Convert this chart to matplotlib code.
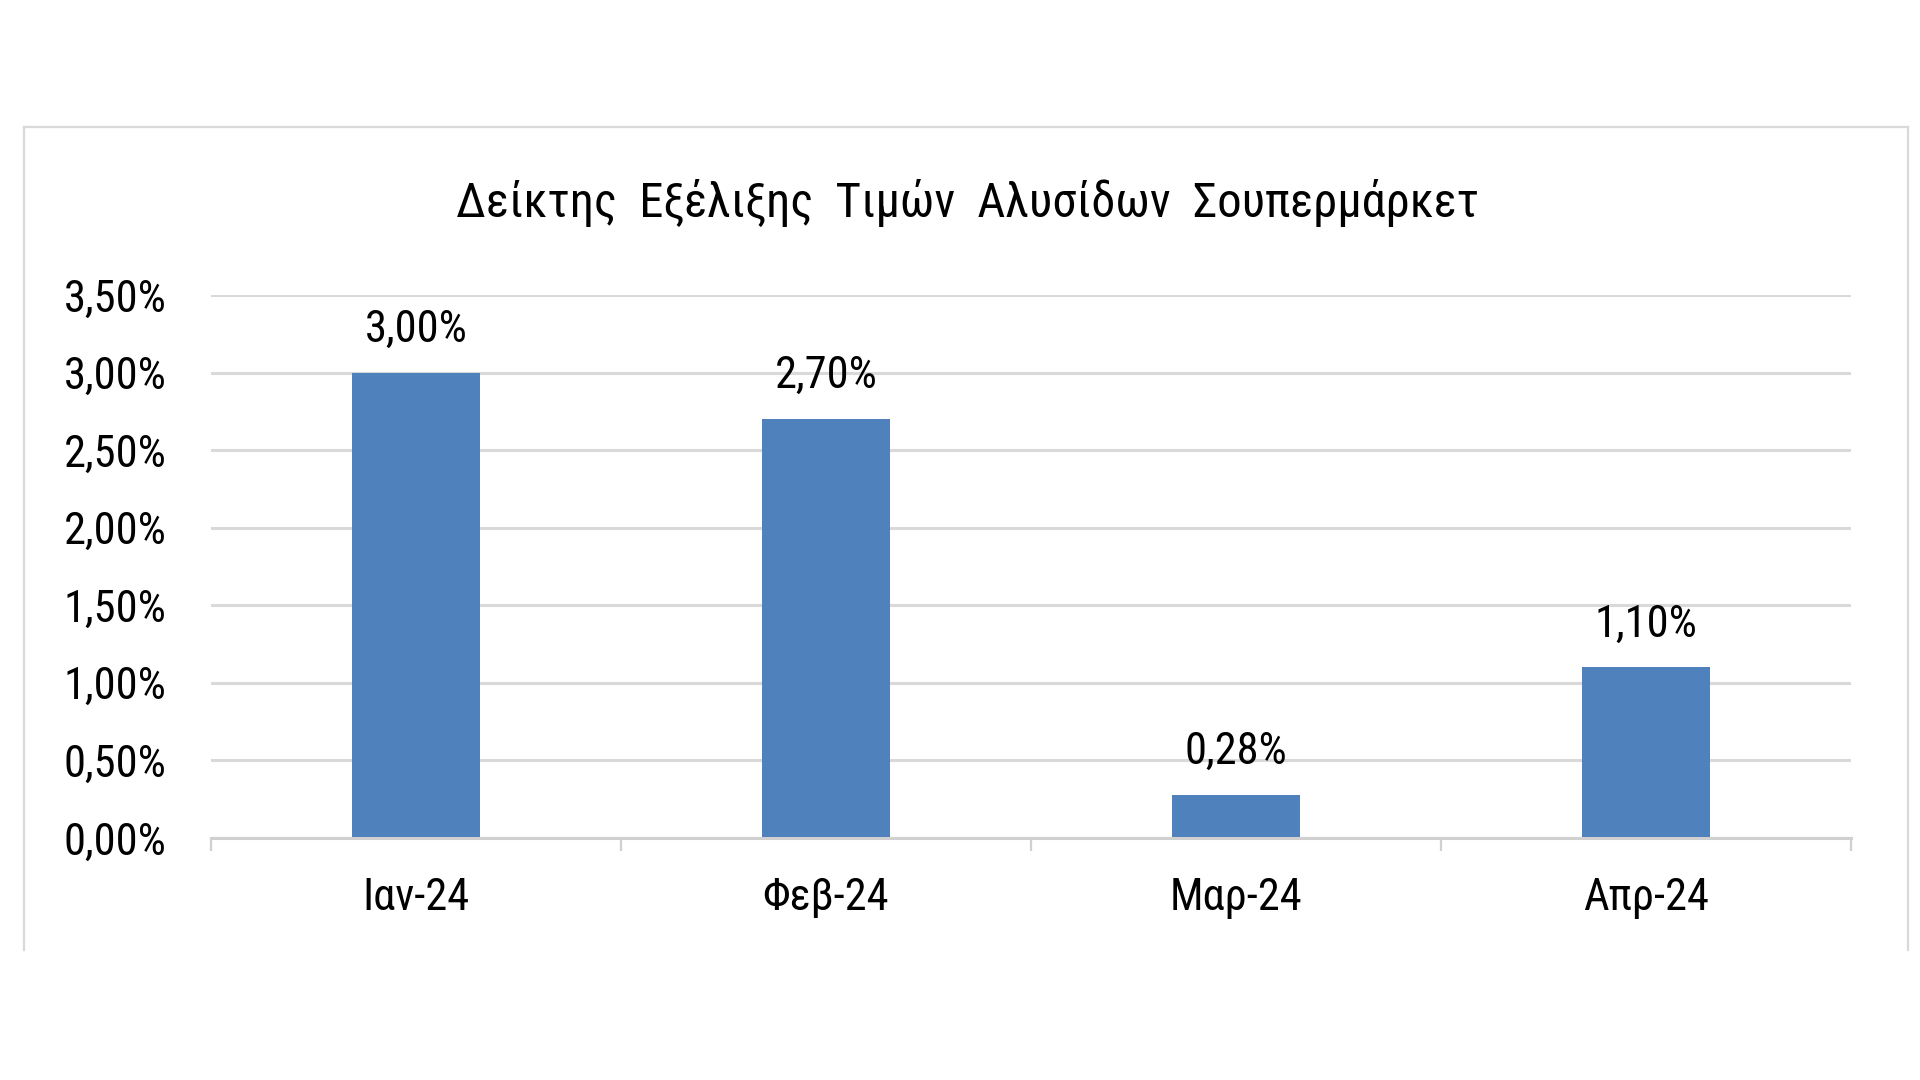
import matplotlib
matplotlib.use("Agg")
import matplotlib.pyplot as plt
from matplotlib.lines import Line2D
from matplotlib.ticker import FixedLocator

categories = ["Ιαν-24", "Φεβ-24", "Μαρ-24", "Απρ-24"]
values = [3.00, 2.70, 0.28, 1.10]
yticks = [0.0, 0.5, 1.0, 1.5, 2.0, 2.5, 3.0, 3.5]
title = "Δείκτης  Εξέλιξης  Τιμών  Αλυσίδων  Σουπερμάρκετ"

FONT = ["Roboto Condensed", "Liberation Sans", "DejaVu Sans"]
plt.rcParams["font.family"] = FONT

def pct(v):
    return f"{v:.2f}%".replace(".", ",")

W, H = 1920, 1080
fig = plt.figure(figsize=(W / 100, H / 100), dpi=100)
fig.patch.set_facecolor("white")

# outer chart frame (left, top, right)
bx0, by0, bx1, by1 = 24 / W, 1 - 950 / H, 1908 / W, 1 - 127 / H
for xs, ys in [((bx0, bx0), (by0, by1)), ((bx0, bx1), (by1, by1)), ((bx1, bx1), (by1, by0))]:
    fig.add_artist(Line2D(xs, ys, transform=fig.transFigure, color="#d9d9d9", lw=1.6))

ax = fig.add_axes([211 / W, 1 - 838 / H, (1851 - 211) / W, (838 - 295) / H])
x = list(range(len(categories)))
ax.bar(x, values, width=0.31, color="#4f81bd", zorder=3)
ax.set_xlim(-0.5, len(categories) - 0.5)
ax.set_ylim(0, 3.5)

ax.set_yticks(yticks)
ax.set_yticklabels([pct(v) for v in yticks])
ax.yaxis.grid(True, color="#d9d9d9", lw=2.2, zorder=0)
ax.set_axisbelow(True)

ax.set_xticks(x)
ax.set_xticklabels(categories)
ax.xaxis.set_minor_locator(FixedLocator([i - 0.5 for i in range(len(categories) + 1)]))
ax.tick_params(axis="x", which="major", length=0, pad=28, labelsize=32, labelcolor="black")
ax.tick_params(axis="x", which="minor", length=9.4, width=1.6, color="#d0d0d0", direction="out")
ax.tick_params(axis="y", length=0, pad=32, labelsize=32, labelcolor="black")

for s in ["left", "right", "top"]:
    ax.spines[s].set_visible(False)
ax.spines["bottom"].set_color("#d0d0d0")
ax.spines["bottom"].set_linewidth(2.2)
ax.spines["bottom"].set_zorder(4)

for xi, v in zip(x, values):
    ax.annotate(pct(v), (xi, v), xytext=(0, 22.3), textcoords="offset points",
                ha="center", va="baseline", fontsize=32, color="black")

fig.text(967 / W, 1 - 217 / H, title, ha="center", va="baseline", fontsize=35, color="black")

fig.savefig("out.png", dpi=100, facecolor="white")
